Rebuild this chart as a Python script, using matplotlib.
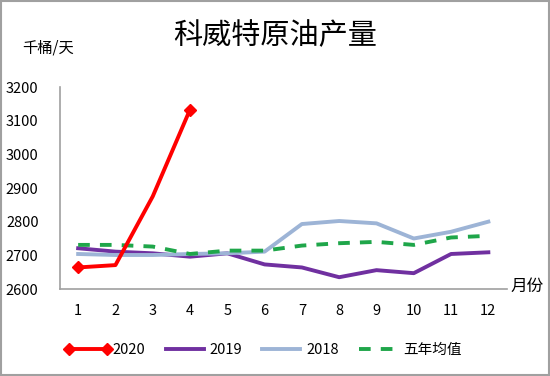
import matplotlib
matplotlib.use('Agg')
import matplotlib.pyplot as plt
from matplotlib.patches import Rectangle

plt.rcParams['font.family'] = ['Noto Sans CJK SC', 'DejaVu Sans']

months = list(range(1, 13))
y2020 = [2664, 2671, 2875, 3133]
y2019 = [2721, 2711, 2706, 2696, 2706, 2673, 2664, 2635, 2656, 2647, 2704, 2709]
y2018 = [2704, 2701, 2701, 2704, 2706, 2711, 2793, 2802, 2795, 2750, 2770, 2800]
avg5 = [2731, 2731, 2726, 2704, 2714, 2714, 2729, 2736, 2740, 2731, 2753, 2758]
yticks = [2600, 2700, 2800, 2900, 3000, 3100, 3200]

fig = plt.figure(figsize=(5.5, 3.76), dpi=100)
ax = fig.add_axes([59.5 / 550, 1 - 289 / 376, (507 - 59.5) / 550, (289 - 87) / 376])

ax.plot(months, y2019, color='#7030a0', lw=2.8, label='2019', zorder=2)
ax.plot(months, y2018, color='#9db4d6', lw=2.8, label='2018', zorder=3)
ax.plot(months, avg5, color='#1fa64a', lw=2.8, ls=(0, (3.0, 2.6)), label='五年均值', zorder=4)
ax.plot(months[:len(y2020)], y2020, color='#ff0000', lw=2.8, marker='D', ms=6,
        markevery=[0, len(y2020) - 1], label='2020', zorder=5)

ax.set_xlim(0.5, 12.5)
ax.set_ylim(2600, 3200)
ax.set_xticks(months)
ax.set_yticks(yticks)
ax.tick_params(length=0, labelsize=10.5)
ax.tick_params(axis='x', pad=11)
ax.tick_params(axis='y', pad=15)
for s in ['top', 'right']:
    ax.spines[s].set_visible(False)
for s in ['left', 'bottom']:
    ax.spines[s].set_color('#a0a0a0')
    ax.spines[s].set_linewidth(1.2)

fig.text(0.5, 1 - 36 / 376, '科威特原油产量', ha='center', va='center', fontsize=21,
         fontweight='medium')
fig.text(22 / 550, 1 - 48 / 376, '千桶/天', ha='left', va='center', fontsize=11)
fig.text(510 / 550, 1 - 286 / 376, '月份', ha='left', va='center', fontsize=12)

handles, labels = ax.get_legend_handles_labels()
order = [3, 0, 1, 2]
fig.legend([handles[i] for i in order], [labels[i] for i in order],
           loc='center', bbox_to_anchor=(0.478, 1 - 350 / 376), ncol=4, frameon=False,
           fontsize=10.5, handlelength=3.2, handletextpad=0.1, columnspacing=1.1,
           numpoints=2)

fig.add_artist(Rectangle((0.002, 0.003), 0.996, 0.994, transform=fig.transFigure,
                         fill=False, edgecolor='#a0a0a0', lw=1.5))

fig.savefig('out.png', dpi=100)
